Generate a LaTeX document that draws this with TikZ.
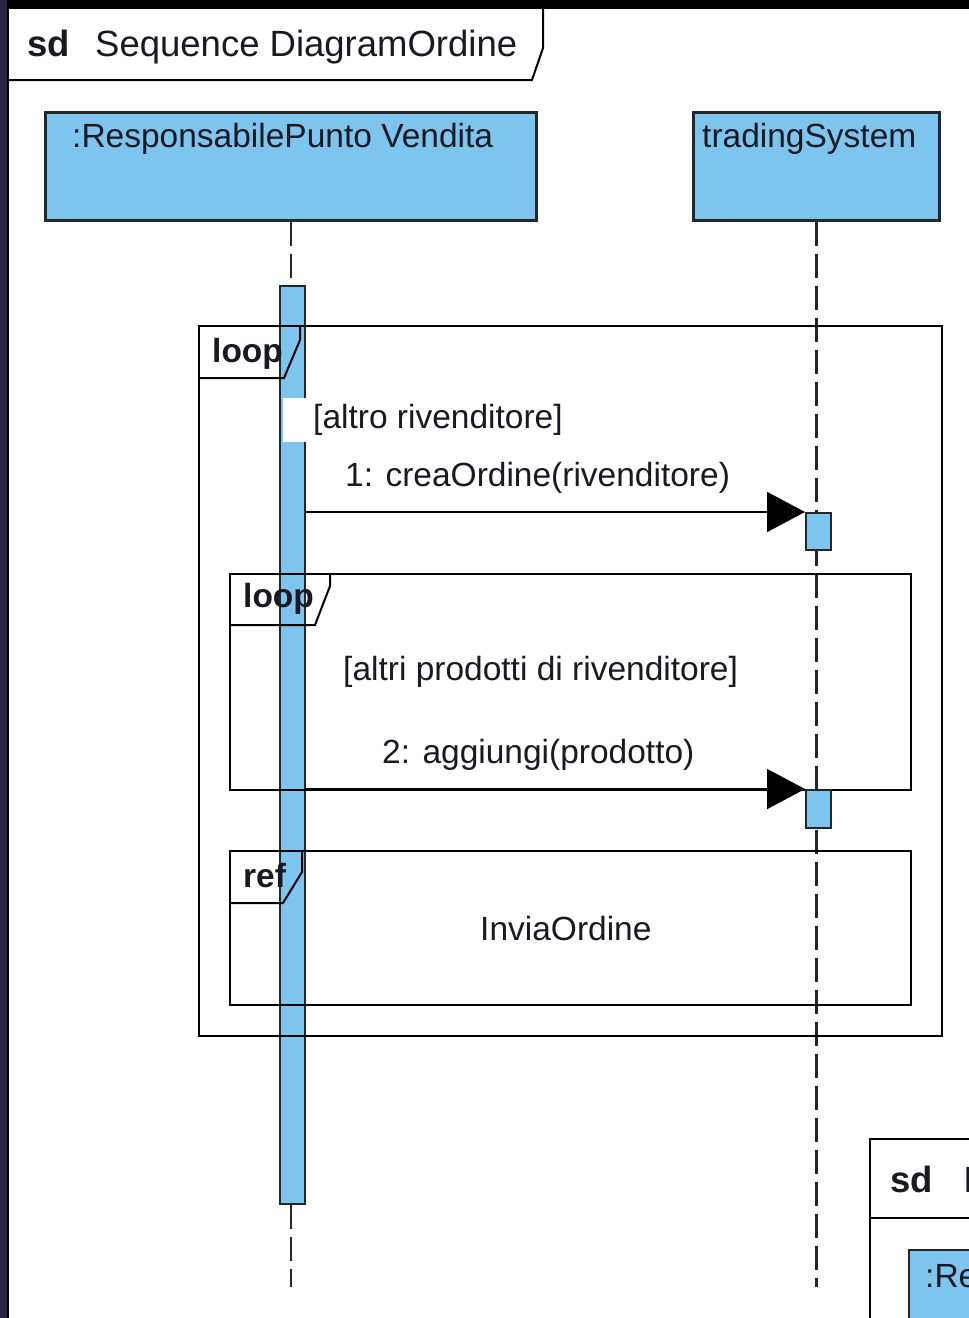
\documentclass[tikz,border=0pt]{standalone}
\usepackage{fontspec}
\setmainfont{Liberation Sans}
\usetikzlibrary{arrows.meta}
\definecolor{llblue}{RGB}{125,197,238}
\definecolor{navy}{RGB}{38,38,66}
\definecolor{ink}{RGB}{25,25,35}
\begin{document}
\begin{tikzpicture}[x=1pt,y=-1pt,
  every node/.style={font=\fontsize{33.5}{40}\selectfont, text=ink, inner sep=0pt},
  lbl/.style={anchor=base west},
  kw/.style={anchor=base west, font=\fontsize{33.5}{40}\selectfont\bfseries},
  titlefont/.style={font=\fontsize{36.5}{42}\selectfont},
  titlebold/.style={anchor=base west, font=\fontsize{36.5}{42}\selectfont\bfseries},
  frame/.style={draw=black, line width=2pt},
  headbox/.style={fill=llblue, draw=black!85, line width=2.5pt, anchor=north west},
  actbox/.style={fill=llblue, draw=black!85, line width=2pt, anchor=north west},
  lifeline/.style={draw=black!85, line width=2.5pt, dash pattern=on 24pt off 8pt},
  msg/.style={draw=black, line width=2pt, -{Triangle[length=38pt,width=40pt]}}]
\useasboundingbox (0,0) rectangle (969,1318);
\fill[white] (0,0) rectangle (969,1318);
% screenshot borders
\fill[black] (0,0) rectangle (969,8);
\fill[navy] (0,0) rectangle (7,1318);

% main sd frame
\draw[frame] (8,1318) -- (8,8) -- (969,8);
\draw[frame] (8,80) -- (532,80) -- (543,48) -- (543,8);
\node[titlebold] (sd1) at (27,56) {sd};
\node[lbl, titlefont] (sdname) at (95,56) {Sequence DiagramOrdine};

% lifeline heads
\node[headbox, minimum width=491pt, minimum height=108pt] (rpv) at (44,111) {};
\node[lbl] (rpvtxt) at (72,147) {:ResponsabilePunto Vendita};
\node[headbox, minimum width=246pt, minimum height=108pt] (ts) at (692,111) {};
\node[lbl] (tstxt) at (702,147) {tradingSystem};

% activation on first lifeline
\node[actbox, minimum width=25pt, minimum height=918pt] (act1) at (279,285) {};
\coordinate (l1top) at (rpv.south |- act1.north);
\coordinate (l1bot) at (rpv.south |- act1.south);
\coordinate (l1end) at ([yshift=-82pt]l1bot);
\coordinate (l2end) at (ts.south |- l1end);
\draw[lifeline] (rpv.south) -- (l1top);
\draw[lifeline] (l1bot) -- (l1end);
\draw[lifeline] (ts.south) -- (l2end);
\node[actbox, minimum width=25pt, minimum height=918pt] (act1b) at (279,285) {};

% outer loop
\draw[frame] (199,326) rectangle (942,1036);
\draw[frame] (199,378) -- (284,378) -- (300,340) -- (300,326);
\node[kw] (loop1) at (212,362) {loop};
\node[fill=white, anchor=west, minimum height=44pt] (guard1) at (283,420) {\hspace{30pt}[altro rivenditore]};

% message 1
\node[lbl] (m1) at (345,486) {1: creaOrdine(rivenditore)};
\node[actbox, minimum width=25pt, minimum height=37pt] (act2a) at (805,512) {};
\draw[msg] (act1b.east |- act2a.north west) -- (act2a.north west);

% inner loop
\draw[frame] (230,574) rectangle (911,790);
\draw[frame] (230,625) -- (315,625) -- (330,586) -- (330,574);
\node[kw] (loop2) at (243,607) {loop};
\node[lbl] (guard2) at (343,680) {[altri prodotti di rivenditore]};
\node[lbl] (m2) at (382,763) {2: aggiungi(prodotto)};
\node[actbox, minimum width=25pt, minimum height=38pt] (act2b) at (805,789) {};
\draw[msg] (act1b.east |- act2b.north west) -- (act2b.north west);

% ref
\draw[frame] (230,851) rectangle (911,1005);
\draw[frame] (230,903) -- (283,903) -- (302,872) -- (302,851);
\node[kw] (ref) at (243,887) {ref};
\node[lbl] (refname) at (480,940) {InviaOrdine};

% second diagram, partly visible
\begin{scope}
\clip (0,0) rectangle (969,1318);
\draw[frame] (870,1318) -- (870,1139) -- (975,1139);
\draw[frame] (870,1218) -- (975,1218);
\fill[llblue] (909,1250) rectangle (975,1325);
\draw[draw=black!85, line width=2.5pt] (975,1250) -- (909,1250) -- (909,1325);
\node[titlebold] (sd2) at (890,1192) {sd};
\node[lbl, titlefont] (sd2name) at (963,1192) {InviaOrdine};
\node[lbl] (rpv2) at (925,1287) {:ResponsabilePunto Vendita};
\end{scope}
\end{tikzpicture}
\end{document}
